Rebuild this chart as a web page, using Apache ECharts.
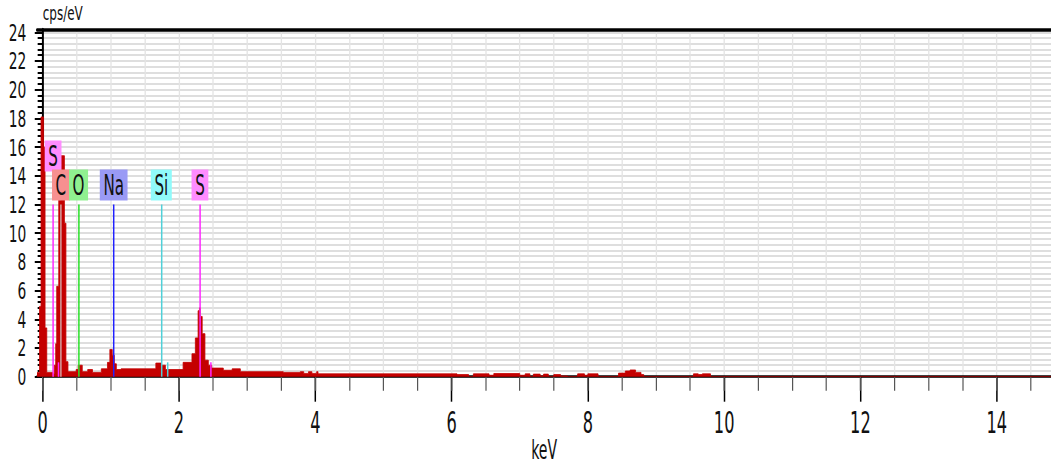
<!DOCTYPE html>
<html>
<head>
<meta charset="utf-8">
<script src="https://cdn.jsdelivr.net/npm/echarts@6.0.0/dist/echarts.min.js"></script>
<style>
  html, body { margin: 0; padding: 0; overflow: hidden; background: #fff; width: 1051px; height: 468px; }
  /* the spectrum is laid out wide and squeezed horizontally, giving the narrow lettering of the instrument plot */
  #chart { width: 1752px; height: 468px; transform: scaleX(0.6); transform-origin: 0 0; }
</style>
</head>
<body>
<div id="chart"></div>
<script>
// EDS spectrum: energy (keV) where each step begins, and its intensity (cps/eV)
const energies = [
  -0.084, -0.047, -0.025, 0.012, 0.034, 0.059, 0.150, 0.170, 0.190, 0.205,
  0.235, 0.262, 0.318, 0.340, 0.370, 0.490, 0.520, 0.580, 0.660, 0.730,
  0.860, 0.950, 0.985, 1.020, 1.050, 1.080, 1.150, 1.660, 1.740, 1.800,
  2.060, 2.190, 2.240, 2.280, 2.300, 2.315, 2.340, 2.380, 2.430, 2.480,
  2.650, 2.780, 2.900, 3.530, 3.780, 3.830, 3.900, 3.950, 4.020, 4.040,
  6.080, 6.250, 6.320, 6.550, 6.620, 7.000, 7.080, 7.150, 7.200, 7.300,
  7.350, 7.420, 7.500, 7.600, 7.700, 7.850, 7.950, 8.000, 8.150, 8.450,
  8.550, 8.620, 8.700, 8.780, 8.820, 9.550, 9.620, 9.680, 9.800, 14.80
];
const counts = [
  0.30, 4.90, 18.1, 16.0, 3.40, 0.30, 0.20, 0.80, 2.30, 6.30,
  12.3, 15.4, 10.7, 1.05, 0.35, 0.50, 0.80, 0.35, 0.50, 0.30,
  0.55, 1.00, 1.90, 1.50, 0.90, 0.50, 0.55, 0.95, 0.80, 0.50,
  1.00, 1.60, 2.70, 4.60, 4.80, 4.20, 3.00, 1.15, 0.80, 0.60,
  0.45, 0.55, 0.35, 0.30, 0.35, 0.23, 0.35, 0.23, 0.35, 0.20,
  0.15, 0.00, 0.20, 0.10, 0.22, 0.10, 0.20, 0.00, 0.18, 0.05,
  0.18, 0.00, 0.15, 0.05, 0.00, 0.20, 0.10, 0.20, 0.00, 0.25,
  0.40, 0.47, 0.30, 0.15, 0.00, 0.20, 0.15, 0.20, 0.00, 0.00
];

// identified emission lines
const lineElements = ['S', 'C', 'O', 'Na', 'Si', 'S', 'S', 'Si', 'S'];
const lineEnergies = [0.152, 0.266, 0.525, 1.041, 1.740, 2.307, 0.229, 1.836, 2.464];
const lineHeights  = [12, 12, 12, 12, 12, 12, 1, 1, 1];
const lineLabelled = [true, true, true, true, true, true, false, false, false];

// axis ticks
const xTicks = [0, 2, 4, 6, 8, 10, 12, 14];
const yTicks = [0, 2, 4, 6, 8, 10, 12, 14, 16, 18, 20, 22, 24];
const xMinorStep = 0.5;
const yMinorStep = 0.4;

const X_MIN = -0.084, X_MAX = 14.8, Y_MIN = 0, Y_MAX = 24.2;

const boxColors  = { S: '#ff8cff', C: '#f79090', O: '#90f090', Na: '#9a9af5', Si: '#90fafa' };
const lineColors = { S: '#ff28ff', C: '#d4a0a0', O: '#28e028', Na: '#2020ff', Si: '#50d0d8' };

const NARROW = "'Liberation Sans Narrow','DejaVu Sans Condensed','DejaVu Sans',sans-serif";
const WIDE = "'DejaVu Sans',Verdana,sans-serif";

const xMinor = [];
for (let i = 0; i * xMinorStep <= 14.5 + 1e-9; i++) xMinor.push(+(i * xMinorStep).toFixed(2));
const yMinor = [];
for (let i = 0; i * yMinorStep <= 24 + 1e-9; i++) yMinor.push(+(i * yMinorStep).toFixed(2));

const spectrum = energies.map((e, i) => [e, counts[i]]);

// vertical marker for each line; a label is raised when the next one sits too close
const labelled = lineEnergies.map((e, i) => i).filter(i => lineLabelled[i]).sort((a, b) => lineEnergies[a] - lineEnergies[b]);
const lifted = {};
labelled.forEach((idx, k) => {
  const nxt = labelled[k + 1];
  if (nxt !== undefined && lineEnergies[nxt] - lineEnergies[idx] < 0.2) lifted[idx] = true;
});

const markerData = lineEnergies.map((e, i) => {
  const el = lineElements[i];
  return [
    {
      coord: [e, 0],
      lineStyle: { color: lineColors[el], width: 2.5, type: 'solid' },
      label: {
        show: lineLabelled[i],
        position: 'end',
        formatter: el,
        distance: lifted[i] ? 33 : 4,
        backgroundColor: boxColors[el],
        padding: [2, 6, 1, 6],
        fontFamily: NARROW,
        fontSize: 28,
        lineHeight: 28,
        color: '#111'
      }
    },
    { coord: [e, lineHeights[i]] }
  ];
});

const chart = echarts.init(document.getElementById('chart'), null, { renderer: 'svg' });

chart.setOption({
  animation: false,
  backgroundColor: '#fff',
  grid: { left: 61.7, right: 0, top: 29.4, bottom: 91.3, outerBoundsMode: 'none', containLabel: false },
  xAxis: [
    {
      type: 'value', min: X_MIN, max: X_MAX, position: 'bottom',
      name: 'keV', nameLocation: 'middle', nameGap: 62, nameMoveOverlap: false,
      nameTextStyle: { fontFamily: NARROW, fontSize: 26, lineHeight: 22, color: '#111' },
      axisLine: { show: true, lineStyle: { color: '#000', width: 2.5 } },
      axisTick: { show: true, length: 25, customValues: xTicks, lineStyle: { color: '#000', width: 2.5 } },
      axisLabel: { customValues: xTicks, margin: 31, fontFamily: NARROW, fontSize: 30, color: '#111', formatter: v => String(v) },
      splitLine: { show: false }
    },
    {
      type: 'value', min: X_MIN, max: X_MAX, position: 'bottom',
      axisLine: { show: false },
      axisTick: { show: true, length: 14, customValues: xMinor, lineStyle: { color: '#555', width: 2 } },
      axisLabel: { show: false },
      splitLine: { show: true, lineStyle: { color: '#e4e4e4', width: 2.2 } }
    },
    {
      type: 'value', min: X_MIN, max: X_MAX, position: 'top',
      axisLine: { show: true, lineStyle: { color: '#000', width: 3.5 } },
      axisTick: { show: false }, axisLabel: { show: false }, splitLine: { show: false }
    }
  ],
  yAxis: [
    {
      type: 'value', min: Y_MIN, max: Y_MAX, position: 'left',
      name: 'cps/eV', nameLocation: 'end', nameGap: 16,
      nameTextStyle: { fontFamily: WIDE, fontSize: 20, color: '#111', align: 'left', verticalAlign: 'middle', padding: 0 },
      axisLine: { show: true, lineStyle: { color: '#000', width: 3.3 } },
      axisTick: { show: true, length: 13.3, customValues: yTicks, lineStyle: { color: '#000', width: 2 } },
      axisLabel: { customValues: yTicks, margin: 18, fontFamily: WIDE, fontSize: 23, color: '#111' },
      splitLine: { show: false }
    },
    {
      type: 'value', min: Y_MIN, max: Y_MAX, position: 'left',
      axisLine: { show: false },
      axisTick: { show: true, length: 8.3, customValues: yMinor, lineStyle: { color: '#000', width: 2 } },
      axisLabel: { show: false },
      splitLine: { show: true, lineStyle: { color: '#dedede', width: 2 } }
    }
  ],
  series: [
    {
      type: 'line',
      xAxisIndex: 0, yAxisIndex: 0,
      data: spectrum,
      step: 'end',
      symbol: 'none',
      lineStyle: { color: '#c40000', width: 1 },
      areaStyle: { color: '#c40000', opacity: 1 },
      markLine: {
        silent: true,
        symbol: 'none',
        animation: false,
        data: markerData
      }
    }
  ]
});
</script>
</body>
</html>
